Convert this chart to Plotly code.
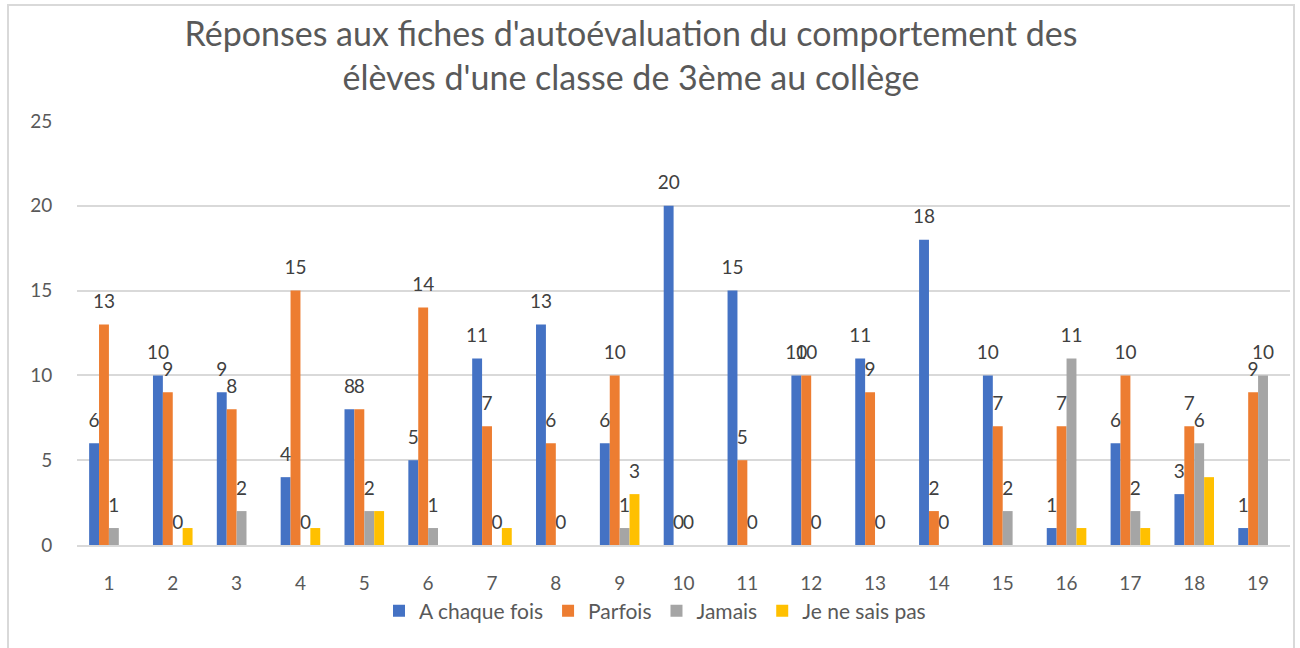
import plotly.graph_objects as go

categories = [str(i) for i in range(1, 20)]
a_chaque_fois = [6, 10, 9, 4, 8, 5, 11, 13, 6, 20, 15, 10, 11, 18, 10, 1, 6, 3, 1]
parfois = [13, 9, 8, 15, 8, 14, 7, 6, 10, 0, 5, 10, 9, 2, 7, 7, 10, 7, 9]
jamais = [1, 0, 2, 0, 2, 1, 0, 0, 1, 0, 0, 0, 0, 0, 2, 11, 2, 6, 10]
je_ne_sais_pas = [None, 1, None, 1, 2, None, 1, None, 3, None, None, None, None, None, None, 1, 1, 4, None]
je_ne_sais_pas_labels = ["", "", "", "", "", "", "", "", "3", "", "", "", "", "", "", "", "", "", ""]
y_ticks = [0, 5, 10, 15, 20, 25]

series = [
    ("A chaque fois", a_chaque_fois, "#4472C4", [str(v) for v in a_chaque_fois]),
    ("Parfois", parfois, "#ED7D31", [str(v) for v in parfois]),
    ("Jamais", jamais, "#A5A5A5", [str(v) for v in jamais]),
    ("Je ne sais pas", je_ne_sais_pas, "#FFC000", je_ne_sais_pas_labels),
]

FONT = "Lato"
fig = go.Figure()
for name, vals, color, labels in series:
    fig.add_trace(go.Bar(x=categories, y=vals, name=name, marker_color=color,
                         marker_line_width=0, hoverinfo="x+y+name"))
for name, vals, color, labels in series:
    fig.add_trace(go.Scatter(x=categories, y=vals, mode="markers+text", text=labels,
                             textposition="top center",
                             textfont=dict(family=FONT, size=19, color="#404040"),
                             marker=dict(size=17, opacity=0), showlegend=False,
                             hoverinfo="skip", cliponaxis=False))

title_line1 = "Réponses aux fiches d'autoévaluation du comportement des"
title_line2 = "élèves d'une classe de 3ème au collège"

fig.update_layout(
    width=1300, height=648,
    margin=dict(l=77, r=10, t=121, b=103, autoexpand=False),
    paper_bgcolor="white", plot_bgcolor="white",
    barmode="group", bargap=0.38, bargroupgap=0,
    scattermode="group", scattergap=0.38,
    title=dict(
        text=f"{title_line1}<br>{title_line2}",
        font=dict(family=FONT, size=34, color="#595959"),
        x=631 / 1300, xanchor="center", xref="container",
        y=1 - 46 / 648, yanchor="top", yref="container",
    ),
    xaxis=dict(type="category", showgrid=False, showline=True, linecolor="#D9D9D9", linewidth=1.5,
               ticks="outside", ticklen=20, tickcolor="rgba(0,0,0,0)",
               tickfont=dict(family=FONT, size=19, color="#595959")),
    yaxis=dict(range=[0, 25], tickvals=y_ticks, showgrid=True, gridcolor="#D9D9D9", gridwidth=1.5,
               zeroline=False, showline=False,
               ticks="outside", ticklen=20, tickcolor="rgba(0,0,0,0)",
               tickfont=dict(family=FONT, size=19, color="#595959")),
    legend=dict(orientation="h", x=(655 - 77) / 1213, xanchor="center",
                y=(545 - 611) / 424, yanchor="middle",
                font=dict(family=FONT, size=21, color="#595959")),
    showlegend=True,
    shapes=[dict(type="rect", xref="paper", yref="paper",
                 x0=(8 - 77) / 1213, x1=(1294 - 77) / 1213,
                 y0=(545 - 660) / 424, y1=(545 - 5) / 424,
                 line=dict(color="#D9D9D9", width=2), layer="below")],
)

fig.write_html("out.html", config={"displayModeBar": False},
               post_script="document.body.style.margin='0';")
